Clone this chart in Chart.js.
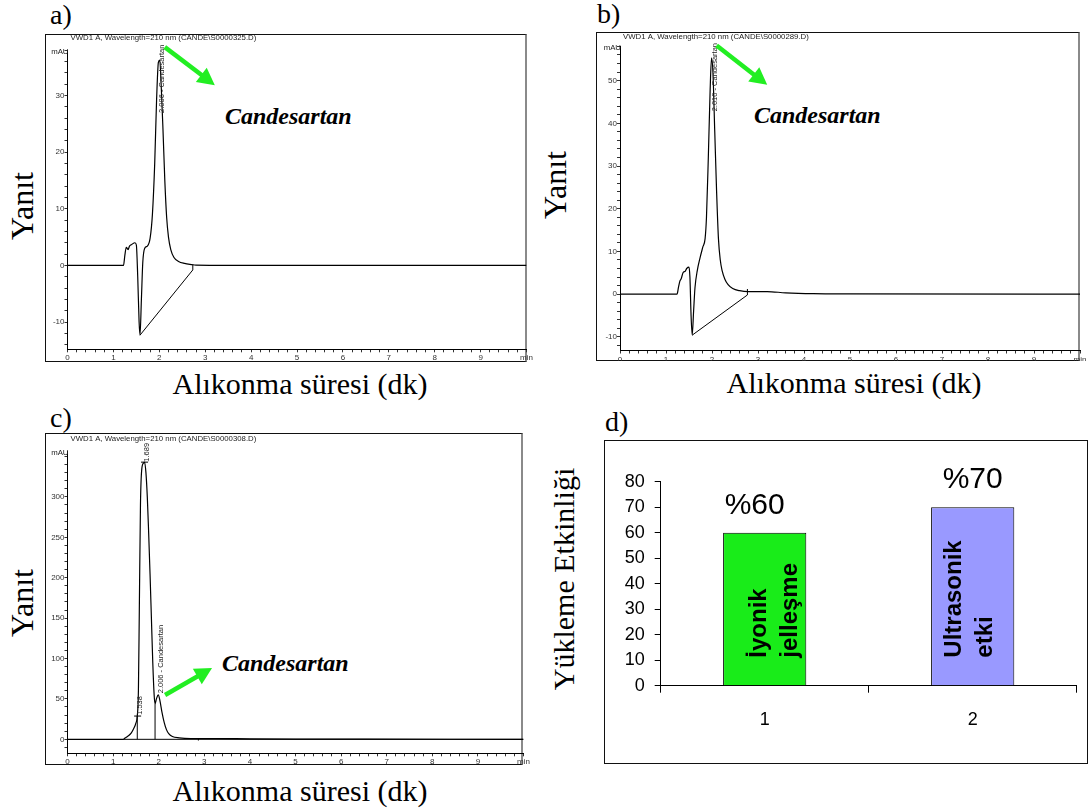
<!DOCTYPE html>
<html lang="tr">
<head>
<meta charset="utf-8">
<title>Candesartan HPLC</title>
<script src="https://cdn.jsdelivr.net/npm/chart.js@4.4.1/dist/chart.umd.min.js"></script>
<style>
  body { margin:0; width:1089px; height:811px; position:relative; overflow:hidden; background:#fff; }
  canvas { position:absolute; }
  .frame { position:absolute; box-sizing:border-box; border:1px solid #111; }
  .frame.hp { border-right:2px solid #8a8a8a; }
  .txt { position:absolute; font-family:"Liberation Serif", serif; color:#000; white-space:nowrap; line-height:1; }
  .tag { font-size:28px; }
  .axt { font-size:30px; transform:translate(-50%,-50%); }
  .axt.rot { transform:translate(-50%,-50%) rotate(-90deg); }
  .axt.big { font-size:32px; }
  .cand { font-size:24px; font-style:italic; font-weight:bold; }
</style>
</head>
<body>

<div class="frame hp" style="left:45px;top:34px;width:482px;height:328px"></div>
<div class="frame hp" style="left:596px;top:32px;width:484px;height:329px"></div>
<div class="frame hp" style="left:45px;top:433px;width:478px;height:332px"></div>
<div class="frame" style="left:604px;top:440px;width:484px;height:324px"></div>

<div class="txt tag" style="left:50px;top:1px">a)</div>
<div class="txt tag" style="left:597px;top:0px">b)</div>
<div class="txt tag" style="left:50px;top:404px">c)</div>
<div class="txt tag" style="left:605px;top:408px">d)</div>

<div class="txt axt rot big" style="left:22px;top:206px">Yanıt</div>
<div class="txt axt rot big" style="left:555px;top:185px">Yanıt</div>
<div class="txt axt rot big" style="left:22px;top:603px">Yanıt</div>
<div class="txt axt rot" style="left:564px;top:579px">Yükleme Etkinliği</div>

<div class="txt axt" style="left:300px;top:384px">Alıkonma süresi (dk)</div>
<div class="txt axt" style="left:854px;top:383px">Alıkonma süresi (dk)</div>
<div class="txt axt" style="left:300px;top:791px">Alıkonma süresi (dk)</div>

<div class="txt cand" style="left:225px;top:104px">Candesartan</div>
<div class="txt cand" style="left:754px;top:103px">Candesartan</div>
<div class="txt cand" style="left:222px;top:651px">Candesartan</div>

<script>
// retention time (min) and detector response (mAU), 210 nm
const timeA = [0, 1.22, 1.25, 1.28, 1.32, 1.35, 1.40, 1.47, 1.50, 1.53, 1.56, 1.58, 1.61, 1.64, 1.68, 1.74, 1.80, 1.85, 1.90, 1.94, 1.98, 2.01, 2.04, 2.08, 2.12, 2.16, 2.20, 2.25, 2.32, 2.42, 2.55, 2.70, 2.80, 3.50, 10];
const respA = [0, 0, 1.8, 3.2, 2.8, 3.4, 3.7, 4.0, 3.6, -2, -10, -12.3, -6, 0.5, 3, 3.4, 4.8, 9, 18, 29, 35.8, 36.2, 32, 24, 15, 8.5, 5, 2.8, 1.4, 0.7, 0.35, 0.15, 0.05, 0, 0];

const timeB = [0, 1.24, 1.27, 1.30, 1.33, 1.37, 1.42, 1.45, 1.50, 1.52, 1.545, 1.57, 1.60, 1.63, 1.68, 1.74, 1.80, 1.85, 1.88, 1.92, 1.96, 1.99, 2.02, 2.06, 2.10, 2.14, 2.18, 2.22, 2.28, 2.35, 2.45, 2.60, 2.80, 3.20, 3.60, 4.20, 5.0, 10];
const respB = [0, 0, 1.5, 3, 3.6, 5, 5.4, 6, 6.3, 4, -5, -9.6, -4, 1.5, 5.5, 8.5, 11, 13, 18, 32, 48, 55.3, 52, 38, 24, 13, 8, 5.5, 3.5, 2.2, 1.3, 0.8, 0.6, 0.6, 0.3, 0.1, 0.05, 0];

const timeC = [0, 1.22, 1.26, 1.30, 1.35, 1.40, 1.45, 1.50, 1.53, 1.555, 1.575, 1.60, 1.63, 1.67, 1.69, 1.72, 1.75, 1.78, 1.81, 1.84, 1.87, 1.90, 1.92, 1.95, 1.99, 2.03, 2.07, 2.12, 2.17, 2.22, 2.30, 2.45, 2.70, 3.20, 4.0, 5.0, 6.5, 10];
const respC = [0, 0, 1.5, 3, 5, 8, 13, 20, 28.8, 60, 160, 290, 335, 342, 343, 330, 300, 255, 205, 150, 95, 55, 44, 50, 55, 47, 34, 21, 12, 7, 3.5, 1.8, 1, 1, 0.6, 0.3, 0.2, 0];

const minuteLabels = ['0', '1', '2', '3', '4', '5', '6', '7', '8', '9', 'min'];
const ticksA = [-10, 0, 10, 20, 30];
const ticksB = [-10, 0, 10, 20, 30, 40, 50];
const ticksC = [0, 50, 100, 150, 200, 250, 300];

// loading efficiency (%) for the two preparation methods
const methods = ['1', '2'];
const efficiency = [60, 70];
const methodNames = [['İyonik', 'jelleşme'], ['Ultrasonik', 'etki']];
const barColors = ['#19ec19', '#9999ff'];

Chart.defaults.font.family = '"Liberation Sans", Arial, sans-serif';
Chart.defaults.color = '#000';

const zip = (xs, ys) => xs.map((x, i) => ({x, y: ys[i]}));

function addCanvas(box) {
  const c = document.createElement('canvas');
  c.width = box.w; c.height = box.h;
  c.style.left = box.x + 'px'; c.style.top = box.y + 'px';
  document.body.appendChild(c);
  return c;
}

// ChemStation-style annotations: header, unit, peak labels, markers, arrow
const chromExtras = {
  id: 'chromExtras',
  afterDatasetsDraw(chart, args, o) {
    if (!o.header) return;
    const {ctx, chartArea: a, scales: {x, y}} = chart;
    ctx.save();
    ctx.fillStyle = '#222';
    ctx.textBaseline = 'middle';
    ctx.font = '7.8px "Liberation Sans"';
    ctx.textAlign = 'left';
    ctx.fillText(o.header, a.left + 3, a.top + o.headerDy);
    ctx.textAlign = 'right';
    ctx.fillText('mAU', a.left + 1, a.top + 2);

    ctx.font = '7.5px "Liberation Sans"';
    ctx.textAlign = 'left';
    o.peaks.forEach(p => {
      ctx.save();
      ctx.translate(x.getPixelForValue(p.t), y.getPixelForValue(p.at));
      ctx.rotate(-Math.PI / 2);
      ctx.fillText(p.text, 0, 2);
      ctx.restore();
    });

    ctx.strokeStyle = '#000';
    ctx.lineWidth = 1;
    (o.marks || []).forEach(m => {
      const px = x.getPixelForValue(m.t), py = y.getPixelForValue(m.v);
      ctx.beginPath(); ctx.moveTo(px - 3.5, py); ctx.lineTo(px + 3.5, py); ctx.stroke();
    });

    const ar = o.arrow;
    const x0 = x.getPixelForValue(ar.from[0]), y0 = y.getPixelForValue(ar.from[1]);
    const x1 = x.getPixelForValue(ar.to[0]), y1 = y.getPixelForValue(ar.to[1]);
    const len = Math.hypot(x1 - x0, y1 - y0), ux = (x1 - x0) / len, uy = (y1 - y0) / len;
    const hl = 17, hw = 9;
    const bx = x1 - ux * hl, by = y1 - uy * hl;
    ctx.strokeStyle = ctx.fillStyle = '#22ee22';
    ctx.lineWidth = 4.5;
    ctx.beginPath(); ctx.moveTo(x0, y0); ctx.lineTo(bx + ux * 2, by + uy * 2); ctx.stroke();
    ctx.beginPath();
    ctx.moveTo(x1, y1);
    ctx.lineTo(bx - uy * hw, by + ux * hw);
    ctx.lineTo(bx + uy * hw, by - ux * hw);
    ctx.closePath(); ctx.fill();
    ctx.restore();
  }
};

function chromatogram(cfg) {
  const f = cfg.frame, p = cfg.plot;
  const right = Math.min(f.r + 10, 1089), bottom = f.b + 6;
  const canvas = addCanvas({x: f.l, y: f.t, w: right - f.l, h: bottom - f.t});
  const yWidth = p.l - f.l, xHeight = f.b - p.b;
  const line = (data, w) => ({data, borderColor: '#000', borderWidth: w, pointRadius: 0, tension: 0});

  const datasets = [
    Object.assign(line(cfg.curve, 1.2), {cubicInterpolationMode: 'monotone'}),
    ...cfg.extraLines.map(d => line(d, 1))
  ];

  return new Chart(canvas, {
    type: 'line',
    data: {datasets},
    plugins: [chromExtras],
    options: {
      responsive: false,
      animation: false,
      layout: {padding: {left: 0, top: p.t - f.t, right: right - p.r, bottom: bottom - f.b}},
      plugins: {
        legend: {display: false},
        tooltip: {enabled: false},
        chromExtras: {header: cfg.header, headerDy: cfg.headerDy, peaks: cfg.peaks, marks: cfg.marks, arrow: cfg.arrow}
      },
      scales: {
        x: {
          type: 'linear', min: 0, max: 10,
          border: {display: true, color: '#000', width: 1},
          grid: {drawOnChartArea: false, drawTicks: true, tickLength: 3, color: '#333'},
          ticks: {
            stepSize: 0.2, autoSkip: false, maxRotation: 0, padding: 1, color: '#333',
            font: {size: 8},
            callback: v => {
              const r = Math.round(v);
              return Math.abs(v - r) < 1e-6 ? minuteLabels[r] : '';
            }
          },
          afterFit: s => { s.height = xHeight; s.paddingLeft = 0; s.paddingRight = 0; }
        },
        y: {
          min: cfg.yMin, max: cfg.yMax,
          border: {display: true, color: '#000', width: 1},
          grid: {drawOnChartArea: false, drawTicks: true, tickLength: 3, color: '#333'},
          ticks: {
            stepSize: cfg.yStep, autoSkip: false, includeBounds: false, padding: 0, color: '#333',
            font: {size: 8},
            callback: v => {
              const t = cfg.yTicks.find(k => Math.abs(k - v) < 1e-6);
              return t === undefined ? '' : String(t);
            }
          },
          afterFit: s => { s.width = yWidth; s.paddingTop = 0; s.paddingBottom = 0; }
        }
      }
    }
  });
}

chromatogram({
  frame: {l: 45, t: 34, r: 527, b: 362},
  plot: {l: 67.5, t: 50, r: 526.5, b: 349.3},
  yMin: -14.8, yMax: 38, yStep: 2, yTicks: ticksA,
  curve: zip(timeA, respA),
  extraLines: [
    [{x: 1.58, y: -12.3}, {x: 2.73, y: -0.8}],
    [{x: 2.73, y: -0.8}, {x: 2.73, y: 0.2}]
  ],
  header: 'VWD1 A, Wavelength=210 nm (CANDE\\S0000325.D)', headerDy: -12,
  peaks: [{t: 2.006, at: 26.9, text: '2.006 - Candesartan'}],
  arrow: {from: [2.12, 38.5], to: [3.21, 31.8]}
});

chromatogram({
  frame: {l: 596, t: 32, r: 1080, b: 361},
  plot: {l: 620, t: 46, r: 1080, b: 350.5},
  yMin: -13.2, yMax: 58.1, yStep: 2, yTicks: ticksB,
  curve: zip(timeB, respB),
  extraLines: [
    [{x: 1.57, y: -9.6}, {x: 2.77, y: -0.2}],
    [{x: 2.77, y: -0.2}, {x: 2.77, y: 1.2}]
  ],
  header: 'VWD1 A, Wavelength=210 nm (CANDE\\S0000289.D)', headerDy: -9.5,
  peaks: [{t: 2.010, at: 42.8, text: '2.010 - Candesartan'}],
  arrow: {from: [2.10, 58.2], to: [3.20, 49.0]}
});

chromatogram({
  frame: {l: 45, t: 433, r: 523, b: 765},
  plot: {l: 67.5, t: 451, r: 523.5, b: 753.3},
  yMin: -17.3, yMax: 356.8, yStep: 10, yTicks: ticksC,
  curve: zip(timeC, respC),
  extraLines: [
    [{x: 1.22, y: 0}, {x: 10, y: 0}],
    [{x: 1.53, y: 0}, {x: 1.53, y: 28.8}],
    [{x: 1.92, y: 0}, {x: 1.92, y: 44}],
    [{x: 2.87, y: -1.5}, {x: 2.87, y: 1.5}]
  ],
  header: 'VWD1 A, Wavelength=210 nm (CANDE\\S0000308.D)', headerDy: -12,
  peaks: [
    {t: 1.538, at: 30.3, text: '1.538'},
    {t: 1.689, at: 343.6, text: '1.689'},
    {t: 2.006, at: 57, text: '2.006 - Candesartan'}
  ],
  marks: [{t: 1.538, v: 28.8}, {t: 1.689, v: 343}],
  arrow: {from: [2.14, 54.8], to: [3.17, 88.2]}
});

// percentage above each bar and the method name written up the bar
const barNotes = {
  id: 'barNotes',
  afterDatasetsDraw(chart, args, o) {
    const {ctx} = chart;
    chart.getDatasetMeta(0).data.forEach((bar, i) => {
      ctx.save();
      ctx.fillStyle = '#000';
      ctx.font = '30px "Liberation Sans"';
      ctx.textAlign = 'center';
      ctx.textBaseline = 'alphabetic';
      ctx.fillText('%' + efficiency[i], bar.x + o.valueDx[i], bar.y - 19);

      ctx.translate(bar.x + o.nameDx[i], bar.base - 27.5);
      ctx.rotate(-Math.PI / 2);
      ctx.font = 'bold 24px "Liberation Sans"';
      ctx.textAlign = 'left';
      ctx.textBaseline = 'middle';
      const lines = methodNames[i];
      lines.forEach((t, k) => ctx.fillText(t, 0, (k - (lines.length - 1) / 2) * 31));
      ctx.restore();
    });
  }
};

const boxD = {x: 604, y: 440, w: 484, h: 324};
const canvasD = addCanvas(boxD);
new Chart(canvasD, {
  type: 'bar',
  data: {
    labels: methods,
    datasets: [{
      data: efficiency,
      backgroundColor: barColors,
      borderColor: '#000',
      borderWidth: 1,
      borderSkipped: 'bottom',
      categoryPercentage: 1,
      barPercentage: 0.4
    }]
  },
  plugins: [barNotes],
  options: {
    responsive: false,
    animation: false,
    layout: {padding: {left: 0, top: 41.7, right: 11.3, bottom: 0}},
    plugins: {
      legend: {display: false},
      tooltip: {enabled: false},
      barNotes: {valueDx: [-10, 0], nameDx: [10, -3]}
    },
    scales: {
      x: {
        border: {display: true, color: '#000', width: 1},
        grid: {offset: true, drawOnChartArea: false, drawTicks: true, tickLength: 7, color: '#000'},
        ticks: {font: {size: 18}, padding: 17, maxRotation: 0},
        afterFit: s => { s.height = 78.3; s.paddingLeft = 0; s.paddingRight = 0; }
      },
      y: {
        min: 0, max: 80,
        border: {display: true, color: '#000', width: 1},
        grid: {drawOnChartArea: false, drawTicks: true, tickLength: 6, color: '#000'},
        ticks: {stepSize: 10, font: {size: 18}, padding: 10},
        afterFit: s => { s.width = 56.7; s.paddingTop = 0; s.paddingBottom = 0; }
      }
    }
  }
});
</script>
</body>
</html>
